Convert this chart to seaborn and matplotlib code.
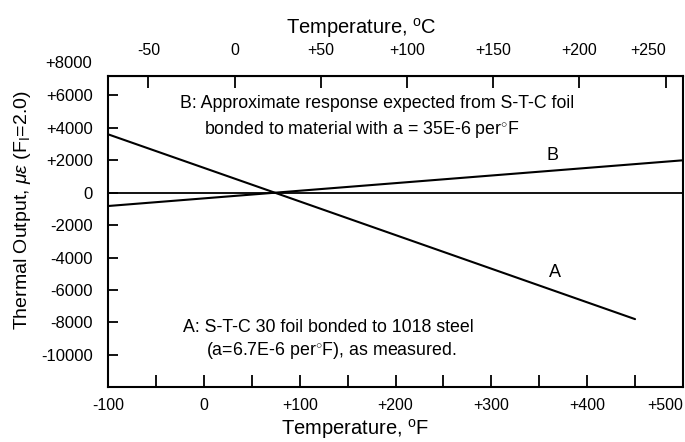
import matplotlib
matplotlib.use("Agg")
import matplotlib.pyplot as plt
import matplotlib.transforms as mtransforms
import seaborn as sns
import pandas as pd
import numpy as np

# Data
temp_a_F = [-100, 74, 450]
output_a = [3600, 0, -7800]
temp_b_F = [-100, 74, 500]
output_b = [-820, 0, 2000]

x_ticks_major = [-100, 0, 100, 200, 300, 400, 500]
x_tick_labels = ["-100", "0", "+100", "+200", "+300", "+400", "+500"]
y_ticks = [8000, 6000, 4000, 2000, 0, -2000, -4000, -6000, -8000, -10000]
y_tick_labels = ["+8000", "+6000", "+4000", "+2000", "0", "-2000", "-4000",
                 "-6000", "-8000", "-10000"]
c_ticks = [-50, 0, 50, 100, 150, 200, 250]
c_tick_labels = ["-50", "0", "+50", "+100", "+150", "+200", "+250"]

sns.set_style("white")
plt.rcParams['font.family'] = ['Liberation Sans', 'DejaVu Sans']
plt.rcParams['mathtext.fontset'] = 'custom'
plt.rcParams['mathtext.rm'] = 'Liberation Sans'
plt.rcParams['mathtext.it'] = 'Liberation Sans:italic'
for k in ['text.color', 'axes.labelcolor', 'xtick.color', 'ytick.color']:
    plt.rcParams[k] = 'black'

df = pd.concat([
    pd.DataFrame({"T": temp_a_F, "out": output_a, "curve": "A"}),
    pd.DataFrame({"T": temp_b_F, "out": output_b, "curve": "B"}),
])

fig = plt.figure(figsize=(6.85, 4.42), dpi=100)
ax = fig.add_axes([0.158, 0.124, 0.839, 0.704])

sns.lineplot(data=df, x="T", y="out", units="curve", estimator=None,
             color="black", linewidth=1.5, ax=ax, legend=False)
ax.axhline(0, color="black", linewidth=1.3)

ymax = 7200
ax.set_xlim(-100, 500)
ax.set_ylim(-12000, ymax)
ax.set_xticks(x_ticks_major)
ax.set_xticklabels(x_tick_labels)
ax.set_xticks(np.arange(-50, 500, 100), minor=True)
inside = [(t, l) for t, l in zip(y_ticks, y_tick_labels) if t <= ymax]
ax.set_yticks([t for t, _ in inside])
ax.set_yticklabels([l for _, l in inside])
# tick label that sits above the frame
for t, l in zip(y_ticks, y_tick_labels):
    if t > ymax:
        tr = mtransforms.blended_transform_factory(ax.transAxes, ax.transData)
        ax.text(-0.028, t, l, transform=tr, ha="right", va="center",
                fontsize=12, clip_on=False)

ax.tick_params(axis="x", which="both", direction="in", length=8.5, width=1.3,
               labelsize=11.5, pad=8, bottom=True, top=False)
ax.tick_params(axis="y", direction="in", length=7.5, width=1.3, labelsize=12,
               left=True, right=False, pad=11)
xl = ax.get_xticklabels()
xl[-1].set_horizontalalignment("right")
for s in ax.spines.values():
    s.set_color("black")
    s.set_linewidth(1.5)

ax.set_xlabel("Temperature, $^{\\mathrm{o}}$F", fontsize=14.5)
ax.xaxis.set_label_coords(0.43, -0.135)
ax.xaxis.label.set_va("center")
ax.set_ylabel(r"Thermal Output, $\mu\varepsilon$ (F$_\mathrm{I}$=2.0)", fontsize=14)
ax.yaxis.set_label_coords(-0.15, 0.57)
ax.yaxis.label.set_va("center")

sec = ax.secondary_xaxis("top", functions=(lambda f: (f - 32) * 5 / 9,
                                            lambda c: c * 9 / 5 + 32))
sec.set_xticks(c_ticks)
sec.set_xticklabels(c_tick_labels)
sec.tick_params(direction="in", length=8.5, width=1.3, labelsize=11.5, pad=13)
sl = sec.get_xticklabels()
sl[-1].set_horizontalalignment("right")
sec.set_xlabel("Temperature, $^{\\mathrm{o}}$C", fontsize=14.5)
sec.xaxis.set_label_coords(0.44, 1.155, transform=ax.transAxes)
sec.xaxis.label.set_va("center")

fs = 12.8
ax.text(-25, 5490, "B: Approximate response expected from S-T-C foil", fontsize=fs, va="center")
ax.text(0, 3900, "bonded to material with a = 35E-6 per$^{\\circ}$F", fontsize=fs, va="center")
ax.text(-22, -8300, "A: S-T-C 30 foil bonded to 1018 steel", fontsize=fs, va="center")
ax.text(2, -9750, "(a=6.7E-6 per$^{\\circ}$F), as measured.", fontsize=fs, va="center")
ax.text(364, 2300, "B", fontsize=13, va="center", ha="center")
ax.text(366, -4950, "A", fontsize=13, va="center", ha="center")

fig.savefig("out.png", dpi=100)
